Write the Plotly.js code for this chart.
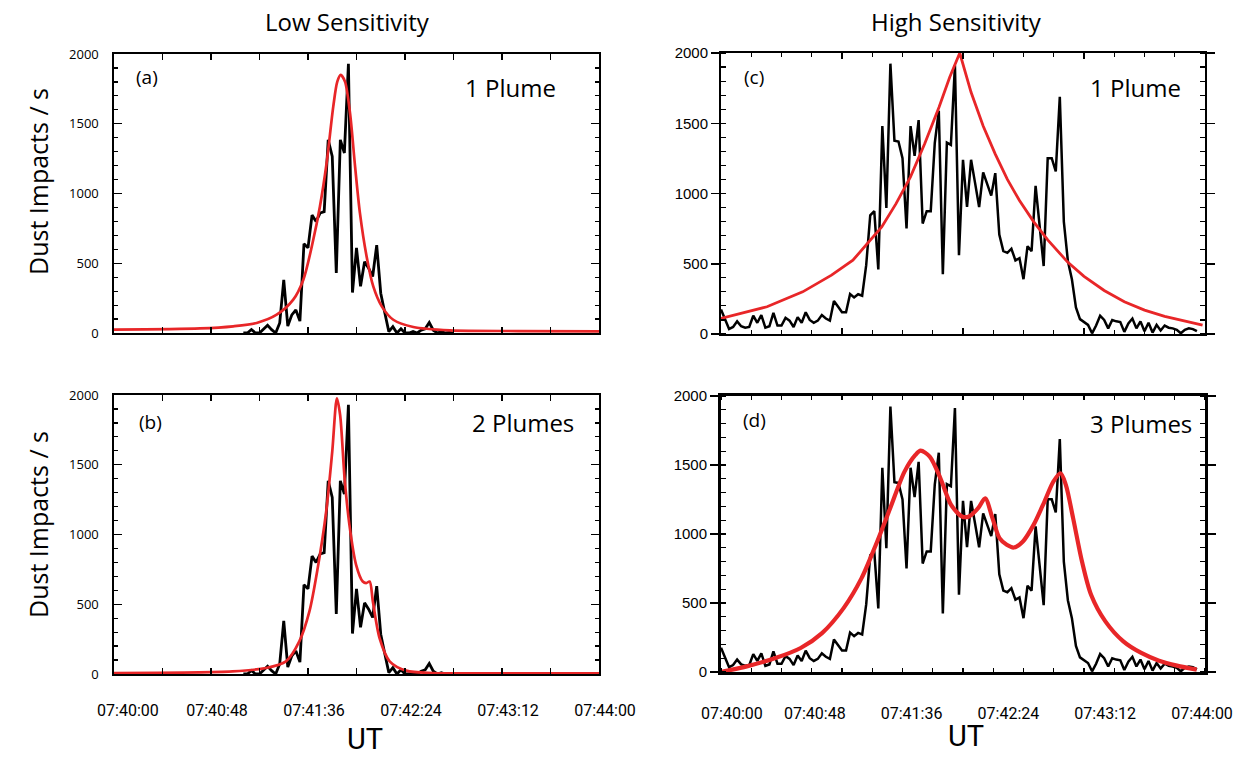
<!DOCTYPE html>
<html>
<head>
<meta charset="utf-8">
<script src="https://cdn.plot.ly/plotly-3.0.1.min.js"></script>
<style>html,body{margin:0;padding:0;background:#fff;}#chart{width:1234px;height:758px;}</style>
</head>
<body>
<div id="chart"></div>
<script>
// ---- time in seconds after 07:40:00 ----
const tickSeconds = [0, 48, 96, 144, 192, 240];
const tickLabels = ["07:40:00", "07:40:48", "07:41:36", "07:42:24", "07:43:12", "07:44:00"];

// ---- Low sensitivity measured impacts (panels a, b) ----
const lowTime = [64,66,68,70,72,74,76,78,80,82,84,86,88,90,92,94,96,98,100,102,104,106,108,110,112,114,116,118,120,122,124,126,128,130,132,134,136,138,140,142,144,146,148,150,152,154,156,158,160,162,164,166,168];
const lowRate = [0,0,25,0,0,24,55,24,0,72,380,50,130,165,85,640,610,845,800,860,870,1385,1265,430,1385,1290,1930,290,610,335,510,465,405,630,285,145,10,45,0,30,0,0,10,0,20,30,75,20,0,10,0,5,0];

// ---- Fit curves, low sensitivity ----
const fitOneLowTime = [0,42.6,59,70.6,80.5,88.7,93.7,98.6,101.9,105.2,108.5,110.5,112.2,114.3,116.8,119.3,121.7,125,128.3,132.5,138.2,148.1,166.3,200,240];
const fitOneLowRate = [24,33,48,72,131,239,382,668,907,1217,1623,1802,1850,1802,1575,1193,859,549,334,191,95,43,19,14,12];

const fitTwoLowTime = [0,58.7,75.2,85.1,91.7,96.7,100.8,105,108,110.3,111.9,114.1,116.5,119.8,123.1,124.8,126.5,128.1,131.4,136.4,144.6,157.9,200,240];
const fitTwoLowRate = [7,19,43,91,234,449,759,1165,1594,1976,1857,1404,1069,783,663,652,663,520,258,91,24,7,5,5];

// ---- High sensitivity measured impacts (panels c, d) ----
const highTime = [0,2,4,6,8,10,12,14,16,18,20,22,24,26,28,30,32,34,36,38,40,42,44,46,48,50,52,54,56,58,60,62,64,66,68,70,72,74,76,78,80,82,84,86,88,90,92,94,96,98,100,102,104,106,108,110,112,114,116,118,120,122,124,126,128,130,132,134,136,138,140,142,144,146,148,150,152,154,156,158,160,162,164,166,168,170,172,174,176,178,180,182,184,186,188,190,192,194,196,198,200,202,204,206,208,210,212,214,216,218,220,222,224,226,228,230,232,234,236];
const highRate = [175,110,35,50,90,55,45,50,130,80,135,45,55,150,60,60,115,95,50,120,80,155,100,80,95,135,110,95,235,195,155,155,285,260,283,272,490,845,874,460,1480,897,1924,1376,1370,1251,751,1480,1268,1523,786,874,874,1358,1589,425,1362,1346,1912,560,1240,904,1240,1074,904,1150,1074,985,1145,708,590,578,607,524,540,390,625,590,1055,767,484,1251,1251,1157,1688,800,520,390,189,106,85,65,5,60,130,100,40,100,90,85,15,75,110,40,90,20,80,10,65,25,60,45,40,30,5,30,40,35,20];

// ---- Fit curves, high sensitivity ----
const fitOneHighTime = [0,22.8,40.5,54.8,65.4,72.5,79.7,86.8,93.9,101,108.1,113.4,118.4,124,130,136,142,148,155,162,172,180,190,200,210,220,230,238.8];
const fitOneHighRate = [111,194,300,419,525,644,762,928,1117,1354,1614,1827,2000,1720,1480,1280,1100,950,800,670,510,410,310,230,170,125,90,64];

const fitThreeHighTime = [0,12.8,27,39.5,50.1,60.8,69.7,76.8,83.9,91,96.4,99,103.5,108.8,114.1,119.5,123,127.5,131,134.6,138.1,141.7,145.2,149.7,155,160.4,164.8,168.4,171,174.6,179,183.5,190.6,199.5,208.4,217.2,226.1,235.9];
const fitThreeHighRate = [0,41,101,174,282,463,680,922,1187,1452,1573,1604,1561,1404,1211,1127,1127,1187,1259,1115,970,922,902,946,1066,1235,1380,1440,1356,1115,801,560,367,222,138,82,46,17];

const RED = "rgb(232,38,40)";
const W = 1234, H = 758;
const px = v => v / W;
const py = v => 1 - v / H;
const TICKFONT = "Roboto, Open Sans, sans-serif";
const NB = "\u00a0";
// the reference nudges its first labels inward; pad with non-breaking spaces to do the same
const leftTickText = tickLabels.map((s, i) => i === 0 ? NB.repeat(4) + s : s);
const rightTickText = tickLabels.map((s, i) => i === 0 ? NB.repeat(7) + s : s);

const traces = [
  {x: lowTime, y: lowRate, xaxis: "x", yaxis: "y", mode: "lines", line: {color: "#000", width: 2.8}},
  {x: fitOneLowTime, y: fitOneLowRate, xaxis: "x", yaxis: "y", mode: "lines", line: {color: RED, width: 2.7, shape: "spline", smoothing: 0.8}},
  {x: lowTime, y: lowRate, xaxis: "x2", yaxis: "y2", mode: "lines", line: {color: "#000", width: 2.8}},
  {x: fitTwoLowTime, y: fitTwoLowRate, xaxis: "x2", yaxis: "y2", mode: "lines", line: {color: RED, width: 2.7, shape: "spline", smoothing: 0.8}},
  {x: highTime, y: highRate, xaxis: "x3", yaxis: "y3", mode: "lines", line: {color: "#000", width: 2.5}},
  {x: fitOneHighTime, y: fitOneHighRate, xaxis: "x3", yaxis: "y3", mode: "lines", line: {color: RED, width: 2.8}},
  {x: highTime, y: highRate, xaxis: "x4", yaxis: "y4", mode: "lines", line: {color: "#000", width: 2.5}},
  {x: fitThreeHighTime, y: fitThreeHighRate, xaxis: "x4", yaxis: "y4", mode: "lines", line: {color: RED, width: 4.2, shape: "spline", smoothing: 0.8}}
];

const leftDom = [px(114), px(599)];
const rightDom = [px(721), px(1205)];
const domA = [py(333), py(54)];
const domB = [py(674), py(395)];
const domC = [py(334), py(53)];
const domD = [py(672), py(396)];

function leftX(domain, anchor, labels) {
  return {
    domain: domain, anchor: anchor, range: [0, 240], showgrid: false, zeroline: false,
    showline: true, linecolor: "#000", linewidth: 1.6, mirror: "ticks",
    tickmode: "array", tickvals: tickSeconds, ticktext: leftTickText,
    ticks: "inside", ticklen: 6, tickwidth: 1.3, tickcolor: "#000",
    minor: {tickmode: "linear", tick0: 0, dtick: 24, ticks: "inside", ticklen: 6, tickwidth: 1.3, tickcolor: "#000"},
    showticklabels: labels, ticklabelstandoff: 21, ticklabelshift: 6, ticklabeloverflow: "allow",
    tickfont: {family: TICKFONT, size: 16, color: "#000"},
    automargin: false, fixedrange: true
  };
}
function leftY(domain, anchor) {
  return {
    domain: domain, anchor: anchor, range: [0, 2000], showgrid: false, zeroline: false,
    showline: true, linecolor: "#000", linewidth: 1.6, mirror: "ticks",
    tickmode: "linear", tick0: 0, dtick: 500, ticks: "inside", ticklen: 8, tickwidth: 1.3, tickcolor: "#000",
    minor: {tickmode: "linear", tick0: 0, dtick: 100, ticks: "inside", ticklen: 4, tickwidth: 1.2, tickcolor: "#000"},
    ticklabelstandoff: 11,
    tickfont: {family: "Open Sans, sans-serif", size: 13, color: "#000"},
    automargin: false, fixedrange: true
  };
}
function rightY(domain, anchor, lw) {
  return {
    domain: domain, anchor: anchor, range: [0, 2000], showgrid: false, zeroline: false,
    showline: true, linecolor: "#000", linewidth: lw, mirror: "ticks",
    tickmode: "linear", tick0: 0, dtick: 500, ticks: "outside", ticklen: 8, tickwidth: 1.5, tickcolor: "#000",
    minor: {tickmode: "linear", tick0: 0, dtick: 100, ticks: "inside", ticklen: 5, tickwidth: 1.2, tickcolor: "#000"},
    tickfont: {family: "Liberation Sans, Arial, sans-serif", size: 15, color: "#000"},
    automargin: false, fixedrange: true
  };
}

const layout = {
  width: W, height: H,
  margin: {l: 0, r: 0, t: 0, b: 0},
  paper_bgcolor: "#fff", plot_bgcolor: "#fff",
  showlegend: false,
  xaxis: leftX(leftDom, "y", false),
  yaxis: leftY(domA, "x"),
  xaxis2: leftX(leftDom, "y2", true),
  yaxis2: leftY(domB, "x2"),
  xaxis3: {
    domain: rightDom, anchor: "y3", range: [0, 240], showgrid: false, zeroline: false,
    showline: true, linecolor: "#000", linewidth: 2, mirror: "ticks",
    tickmode: "linear", tick0: 0, dtick: 60, ticks: "inside", ticklen: 6, tickwidth: 1.4, tickcolor: "#000",
    minor: {tickmode: "linear", tick0: 0, dtick: 15, ticks: "inside", ticklen: 4, tickwidth: 1.2, tickcolor: "#000"},
    showticklabels: false, automargin: false, fixedrange: true
  },
  yaxis3: rightY(domC, "x3", 2),
  xaxis4: {
    domain: rightDom, anchor: "y4", range: [0, 240], showgrid: false, zeroline: false,
    showline: true, linecolor: "#000", linewidth: 3, mirror: "ticks",
    tickmode: "array", tickvals: tickSeconds, ticktext: rightTickText, ticks: "",
    minor: {tickmode: "linear", tick0: 0, dtick: 15, ticks: "inside", ticklen: 4, tickwidth: 1.3, tickcolor: "#000"},
    showticklabels: true, ticklabelstandoff: 25, ticklabelshift: -3, ticklabeloverflow: "allow",
    tickfont: {family: TICKFONT, size: 16, color: "#000"},
    automargin: false, fixedrange: true
  },
  yaxis4: rightY(domD, "x4", 3),
  annotations: []
};

function ann(text, x, y, size, extra) {
  return Object.assign({
    text: text, x: px(x), y: py(y), xref: "paper", yref: "paper",
    xanchor: "center", yanchor: "middle", showarrow: false,
    font: {family: "Open Sans, sans-serif", size: size, color: "#000"}
  }, extra || {});
}
layout.annotations.push(ann("Low Sensitivity", 348, 22, 24));
layout.annotations.push(ann("High Sensitivity", 956, 22, 24));
layout.annotations.push(ann("(a)", 147, 77, 19));
layout.annotations.push(ann("(b)", 150, 422, 19));
layout.annotations.push(ann("(c)", 754, 77, 19));
layout.annotations.push(ann("(d)", 754, 420, 19));
layout.annotations.push(ann("1 Plume", 510, 88, 24));
layout.annotations.push(ann("2 Plumes", 523, 422, 24));
layout.annotations.push(ann("1 Plume", 1135, 87, 24));
layout.annotations.push(ann("3 Plumes", 1141, 423, 24));
const ytitleFont = {family: "Open Sans, sans-serif", size: 25, color: "#000"};
layout.annotations.push(ann("Dust Impacts / s", 38, 182, 25, {textangle: -90, font: ytitleFont}));
layout.annotations.push(ann("Dust Impacts / s", 38, 525, 25, {textangle: -90, font: ytitleFont}));
const utFont = {family: TICKFONT, size: 29, color: "#000"};
layout.annotations.push(ann("UT", 365, 757, 29, {yanchor: "bottom", borderpad: 0, font: utFont}));
layout.annotations.push(ann("UT", 966, 754, 29, {yanchor: "bottom", borderpad: 0, font: utFont}));

Plotly.newPlot("chart", traces, layout, {staticPlot: true, displayModeBar: false});
</script>
</body>
</html>
